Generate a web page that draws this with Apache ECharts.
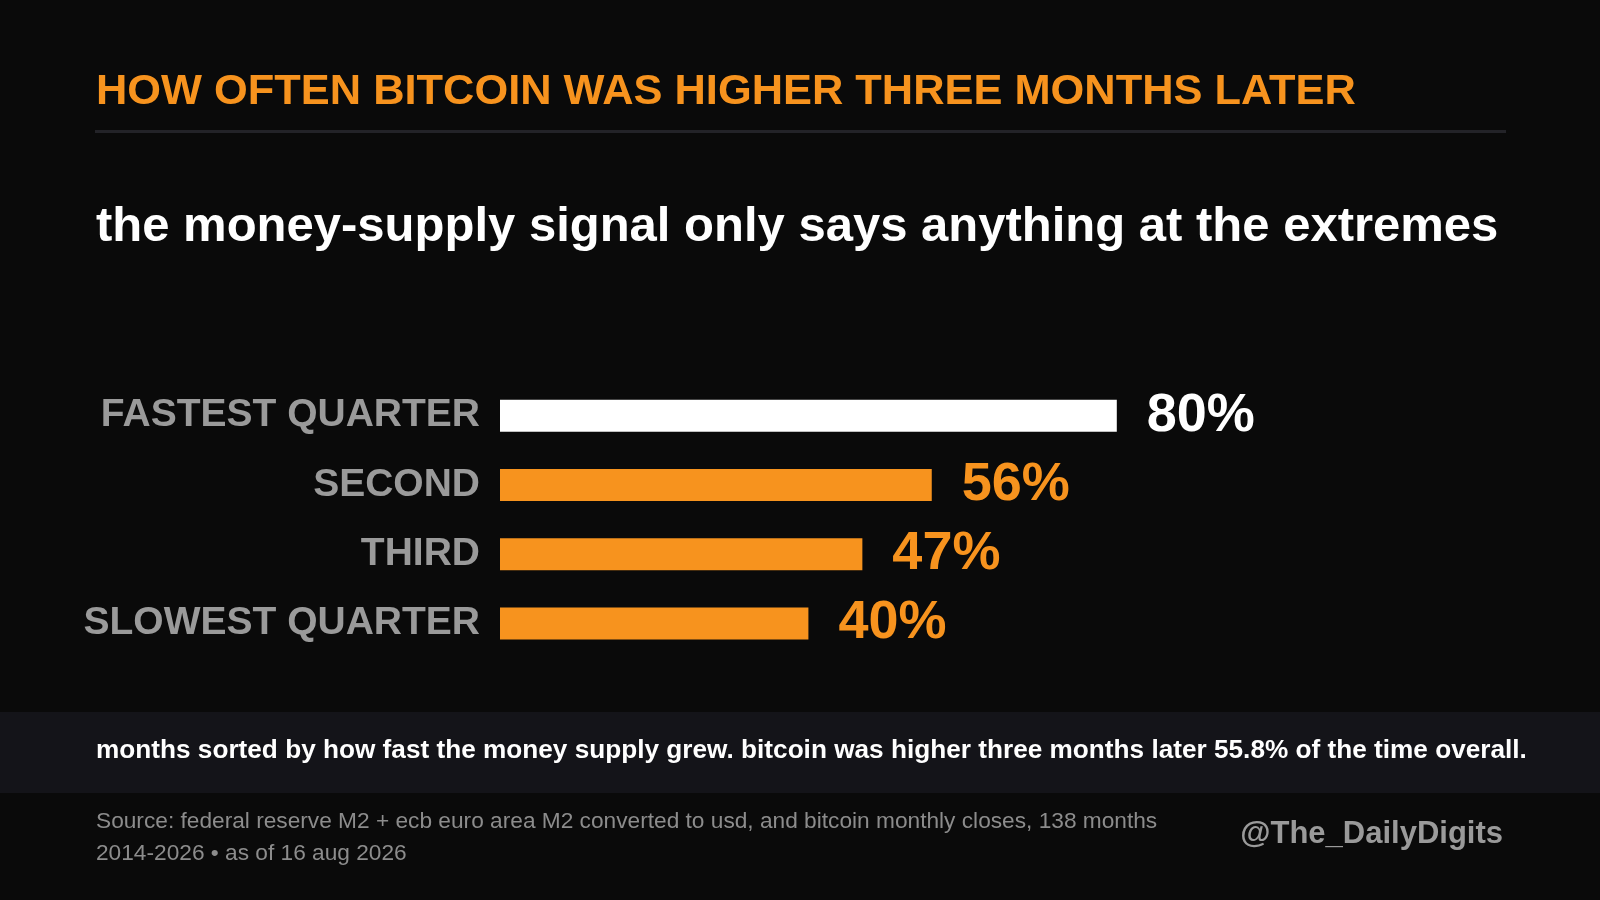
<!DOCTYPE html>
<html>
<head>
<meta charset="utf-8">
<script src="https://cdn.jsdelivr.net/npm/echarts@6/dist/echarts.min.js"></script>
<style>
  html, body { margin: 0; padding: 0; background: #0a0a0a; }
  #chart { width: 1600px; height: 900px; }
</style>
</head>
<body>
<div id="chart"></div>
<script>
const categories = ['FASTEST QUARTER', 'SECOND', 'THIRD', 'SLOWEST QUARTER'];
const values = [80, 56, 47, 40];
const barColors = ['#ffffff', '#f7931e', '#f7931e', '#f7931e'];

const titleText = 'HOW OFTEN BITCOIN WAS HIGHER THREE MONTHS LATER';
const subtitleText = 'the money-supply signal only says anything at the extremes';
const noteText = 'months sorted by how fast the money supply grew. bitcoin was higher three months later 55.8% of the time overall.';
const sourceLines = [
  'Source: federal reserve M2 + ecb euro area M2 converted to usd, and bitcoin monthly closes, 138 months',
  '2014-2026 \u2022 as of 16 aug 2026'
];
const handle = '@The_DailyDigits';

const font = '"Liberation Sans", Arial, sans-serif';
const chart = echarts.init(document.getElementById('chart'));

const option = {
  backgroundColor: '#0a0a0a',
  animation: false,
  grid: { left: 500, width: 771, top: 381, height: 277 },
  xAxis: {
    type: 'value',
    min: 0,
    max: 100,
    show: false
  },
  yAxis: {
    type: 'category',
    data: categories,
    inverse: true,
    axisLine: { show: false },
    axisTick: { show: false },
    splitLine: { show: false },
    axisLabel: {
      color: '#9a9a9a',
      fontFamily: font,
      fontWeight: 'bold',
      fontSize: 39,
      margin: 20
    }
  },
  series: [{
    type: 'bar',
    barWidth: 32,
    data: values.map((v, i) => ({
      value: v,
      itemStyle: { color: barColors[i] },
      label: { color: barColors[i] }
    })),
    label: {
      show: true,
      position: 'right',
      distance: 30,
      formatter: '{c}%',
      fontFamily: font,
      fontWeight: 'bold',
      fontSize: 54
    }
  }],
  graphic: [
    {
      type: 'text', left: 96, top: 71,
      style: { text: titleText, fill: '#f7931e', font: 'bold 43.4px ' + font }
    },
    {
      type: 'rect', shape: { x: 95, y: 130, width: 1411, height: 3 },
      style: { fill: '#232328' }
    },
    {
      type: 'text', left: 96, top: 203,
      style: { text: subtitleText, fill: '#ffffff', font: 'bold 49px ' + font }
    },
    {
      type: 'rect', shape: { x: 0, y: 712, width: 1600, height: 81 },
      style: { fill: '#141419' }
    },
    {
      type: 'text', left: 96, top: 738,
      style: { text: noteText, fill: '#ffffff', font: 'bold 26.2px ' + font }
    },
    {
      type: 'text', left: 96, top: 810,
      style: { text: sourceLines[0], fill: '#8c8c8c', font: '22.7px ' + font }
    },
    {
      type: 'text', left: 96, top: 842,
      style: { text: sourceLines[1], fill: '#8c8c8c', font: '22.7px ' + font }
    },
    {
      type: 'text', right: 97, top: 819,
      style: { text: handle, fill: '#9a9a9a', font: 'bold 31px ' + font }
    }
  ]
};

chart.setOption(option);
</script>
</body>
</html>
